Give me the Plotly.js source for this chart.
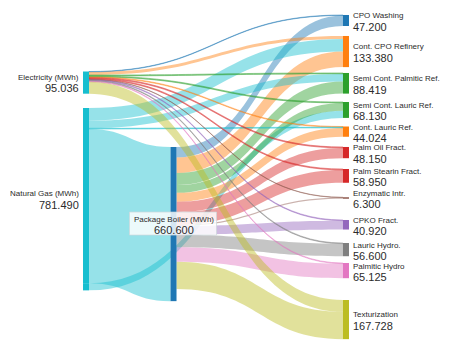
<!DOCTYPE html>
<html><head><meta charset="utf-8">
<script src="https://cdn.plot.ly/plotly-3.0.1.min.js"></script>
<style>html,body{margin:0;padding:0;background:#fff}#chart{width:451px;height:350px}</style>
</head><body><div id="chart"></div>
<script>
// ---------- data ----------
const sourceNames = ['Electricity (MWh)', 'Natural Gas (MWh)'];
const sourceValues = [95.036, 781.490];
const boilerName = 'Package Boiler (MWh)';
const boilerValue = 660.600;
const processNames = ['CPO Washing', 'Cont. CPO Refinery', 'Semi Cont. Palmitic Ref.', 'Semi Cont. Lauric Ref.',
  'Cont. Lauric Ref.', 'Palm Oil Fract.', 'Palm Stearin Fract.', 'Enzymatic Intr.', 'CPKO Fract.',
  'Lauric Hydro.', 'Palmitic Hydro', 'Texturization'];
const processValues = [47.200, 133.380, 88.419, 68.130, 44.024, 48.150, 58.950, 6.300, 40.920, 56.600, 65.125, 167.728];
const electricityToProcess = [2.0, 13.0, 4.0, 4.0, 3.0, 4.0, 4.0, 1.3, 3.0, 3.0, 3.0, 50.736];
const gasToProcess = [0, 53.89, 33.0, 31.0, 3.0, 0, 0, 0, 0, 0, 0, 0];
const gasToBoiler = 660.6;
const boilerToProcess = [45.2, 66.49, 51.419, 33.13, 38.024, 44.15, 54.95, 5.0, 37.92, 53.6, 62.125, 116.992];

// ---------- styles / positions ----------
const sourceColors = ['#17becf', '#17becf'];
const boilerColor = '#1f77b4';
const processColors = ['#1f77b4', '#ff7f0e', '#2ca02c', '#2ca02c', '#ff7f0e', '#d62728', '#d62728',
  '#8c564b', '#9467bd', '#7f7f7f', '#e377c2', '#bcbd22'];
// gas link drawn from the lower edge of the gas bar (band order as in the picture)
const gasFromLowerEdge = [false, false, false, true, false, false, false, false, false, false, false, false];
const colX = {src: 0.02206, boiler: 0.3438, proc: 0.9779};
const sourceY = [0.2200, 0.56233];
const gasLowerY = 0.83866;
const boilerY = 0.6487;
const processY = [0.0318, 0.1259, 0.2221, 0.3029, 0.3686, 0.4321, 0.5027, 0.5697, 0.6508, 0.7261, 0.7897, 0.9381];
const sourceLabelY = [0.2200, 0.5727];
const PLOT_H = 330, PLOT_W = 272;

function rgba(hex, a) {
  const n = parseInt(hex.slice(1), 16);
  return 'rgba(' + ((n >> 16) & 255) + ',' + ((n >> 8) & 255) + ',' + (n & 255) + ',' + a + ')';
}
const LA = 0.45;

// nodes: 0 elec, 1 gas, 2 boiler, 3.. processes, last = lower part of gas bar
const nodeColor = [sourceColors[0], sourceColors[1], boilerColor].concat(processColors).concat([sourceColors[1]]);
const nodeX = [colX.src, colX.src, colX.boiler].concat(processNames.map(() => colX.proc)).concat([colX.src]);
const nodeY = [sourceY[0], sourceY[1], boilerY].concat(processY).concat([gasLowerY]);
const GAS_LOW = 3 + processNames.length;

const src = [], tgt = [], val = [], lcol = [];
src.push(1); tgt.push(2); val.push(gasToBoiler); lcol.push(rgba(sourceColors[1], LA));
processNames.forEach((p, i) => {
  if (electricityToProcess[i] > 0) { src.push(0); tgt.push(3 + i); val.push(electricityToProcess[i]); lcol.push(rgba(processColors[i], LA)); }
  if (gasToProcess[i] > 0) { src.push(gasFromLowerEdge[i] ? GAS_LOW : 1); tgt.push(3 + i); val.push(gasToProcess[i]); lcol.push(rgba(sourceColors[1], LA)); }
  if (boilerToProcess[i] > 0) { src.push(2); tgt.push(3 + i); val.push(boilerToProcess[i]); lcol.push(rgba(processColors[i], LA)); }
});

const trace = {
  type: 'sankey', orientation: 'h', arrangement: 'fixed',
  node: {
    pad: 12.5, thickness: 6, line: {width: 0},
    label: nodeColor.map(() => ''),
    color: nodeColor, x: nodeX, y: nodeY, hoverinfo: 'none'
  },
  link: {source: src, target: tgt, value: val, color: lcol, hoverinfo: 'none'}
};

const TXT = '#2b2b2b';
const fmt = v => v.toFixed(3);
const ann = [];
function pair(x, yFrac, xanchor, name, value, upShift, downShift) {
  ann.push({xref: 'paper', yref: 'paper', x: x, y: 1 - yFrac, xanchor: xanchor, yanchor: 'middle', yshift: upShift,
    showarrow: false, font: {size: 8, color: TXT}, text: name, borderpad: 0});
  ann.push({xref: 'paper', yref: 'paper', x: x, y: 1 - yFrac, xanchor: xanchor, yanchor: 'middle', yshift: downShift,
    showarrow: false, font: {size: 11, color: TXT}, text: value, borderpad: 0});
}
sourceNames.forEach((n, i) => pair(0, sourceLabelY[i], 'right', n, fmt(sourceValues[i]), 5.2, -5.8));
pair(colX.boiler, boilerY, 'center', boilerName, fmt(boilerValue), 5.0, -6.0);
processNames.forEach((n, i) => pair(1, processY[i], 'left', n, fmt(processValues[i]), 4.6, -6.4));

// label box behind the boiler label
const bc = (1 - boilerY);
const shapes = [{type: 'rect', xref: 'paper', yref: 'paper', layer: 'above',
  x0: colX.boiler - 44 / PLOT_W, x1: colX.boiler + 43 / PLOT_W,
  y0: bc - 11 / PLOT_H, y1: bc + 12 / PLOT_H,
  fillcolor: 'rgba(255,255,255,0.82)', line: {color: 'rgba(205,215,220,0.7)', width: 1}}];

Plotly.newPlot('chart', [trace], {
  width: 451, height: 350, margin: {l: 80, r: 99, t: 10, b: 10},
  paper_bgcolor: '#fff', font: {family: 'Liberation Sans, Arial, sans-serif', color: TXT},
  annotations: ann, shapes: shapes, showlegend: false
}, {displayModeBar: false, staticPlot: true});
</script></body></html>
